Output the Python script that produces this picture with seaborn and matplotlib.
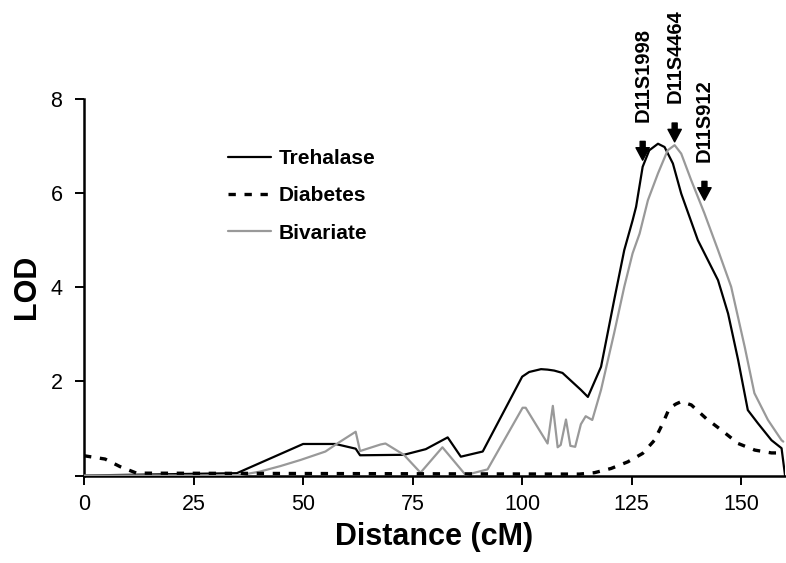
import matplotlib
matplotlib.use("Agg")
import matplotlib.pyplot as plt
import seaborn as sns

# LOD curves (distance in cM)
treh_cm = [0, 34.9, 50, 57.4, 62, 63, 73, 78, 83, 86, 91, 100, 101.6, 104.3, 105.8, 107.3,
           109.2, 113.4, 115, 118, 121, 123.3, 125.2, 126, 127.5, 129, 131, 132.5, 134.4,
           136.3, 140.1, 144.7, 147, 149.3, 151.5, 153.8, 156.9, 159.2, 160]
treh_lod = [0, 0.05, 0.67, 0.67, 0.57, 0.43, 0.44, 0.56, 0.81, 0.40, 0.51, 2.10, 2.20, 2.26,
            2.25, 2.23, 2.18, 1.82, 1.67, 2.31, 3.73, 4.79, 5.42, 5.71, 6.56, 6.91, 7.05, 6.98,
            6.63, 5.99, 5.00, 4.15, 3.44, 2.45, 1.39, 1.11, 0.75, 0.58, 0]

diab_cm = [0, 4.8, 8.2, 12, 113, 116.5, 120.3, 124.1, 127.5, 130.2, 132.1, 133.6, 135.1,
           136.3, 138.6, 142, 145.4, 149.3, 153.1, 156.9, 158]
diab_lod = [0.42, 0.35, 0.19, 0.05, 0.03, 0.06, 0.15, 0.29, 0.47, 0.75, 1.11, 1.43, 1.52,
            1.57, 1.50, 1.21, 0.97, 0.68, 0.54, 0.48, 0.48]

biv_cm = [0, 35, 40, 44.8, 49.4, 55.1, 57.8, 62, 63, 67.7, 68.8, 73, 76.8, 81.8, 87.1, 92.1,
          100.1, 100.8, 105.8, 107, 108.1, 108.8, 110, 111, 112.1, 113.4, 114.5, 116, 118,
          121, 123.3, 125.2, 126.8, 128.7, 131, 133.2, 134.8, 136.3, 138.6, 141.6, 144.7,
          147.7, 150.8, 153, 156.1, 159.2, 159.6]
biv_lod = [0, 0, 0.08, 0.20, 0.33, 0.51, 0.68, 0.93, 0.52, 0.66, 0.68, 0.44, 0.06, 0.60, 0.01,
           0.13, 1.44, 1.44, 0.68, 1.48, 0.60, 0.65, 1.19, 0.63, 0.61, 1.09, 1.26, 1.18, 1.82,
           3.03, 4.01, 4.72, 5.14, 5.85, 6.42, 6.91, 7.02, 6.84, 6.27, 5.57, 4.79, 4.01, 2.73,
           1.75, 1.18, 0.75, 0.72]

marker_names = ["D11S1998", "D11S4464", "D11S912"]
marker_cm = [127.5, 134.8, 141.6]

x_ticks = [0, 25, 50, 75, 100, 125, 150]
y_ticks = [0, 2, 4, 6, 8]

sns.set_style("ticks")
plt.rcParams["font.family"] = ["Liberation Sans", "DejaVu Sans"]
plt.rcParams.update({"text.color": "black", "axes.labelcolor": "black",
                     "xtick.color": "black", "ytick.color": "black"})

fig = plt.figure(figsize=(7.86, 5.63), dpi=100)
ax = fig.add_axes([0.1069, 0.1554, 0.8919, 0.6687])

sns.lineplot(x=treh_cm, y=treh_lod, ax=ax, color="black", lw=1.6, label="Trehalase",
             estimator=None, sort=False, zorder=3)
sns.lineplot(x=diab_cm, y=diab_lod, ax=ax, color="black", lw=2.4, label="Diabetes",
             estimator=None, sort=False, zorder=5)
sns.lineplot(x=biv_cm, y=biv_lod, ax=ax, color="#999999", lw=1.6, label="Bivariate",
             estimator=None, sort=False, zorder=4)
ax.lines[1].set_dashes((2.2, 2.6))

ax.set_xlim(0, 160)
ax.set_ylim(0, 8)
ax.set_xticks(x_ticks)
ax.set_xticklabels([str(t) for t in x_ticks])
ax.set_yticks(y_ticks)
ax.set_yticklabels([""] + [str(t) for t in y_ticks[1:]])
ax.tick_params(axis="x", labelsize=15.5, length=6.5, width=1.4, pad=7)
ax.tick_params(axis="y", labelsize=15.5, length=6.5, width=1.4, pad=9)
for side in ["left", "bottom"]:
    ax.spines[side].set_linewidth(1.8)
    ax.spines[side].set_color("black")
sns.despine(ax=ax)

ax.set_xlabel("Distance (cM)", fontsize=22, fontweight="bold", labelpad=5)
ax.set_ylabel("LOD", fontsize=22, fontweight="bold", labelpad=6)

leg = ax.legend(loc="upper left", bbox_to_anchor=(0.205, 0.867), frameon=False,
                prop={"size": 15, "weight": "bold"}, handlelength=2.1, handletextpad=0.35,
                labelspacing=0.88, borderpad=0, borderaxespad=0)

# marker arrows and labels
arrow_tip = [6.70, 7.09, 5.85]
for name, cm, tip in zip(marker_names, marker_cm, arrow_tip):
    ax.annotate("", xy=(cm, tip), xytext=(cm, tip + 0.4), annotation_clip=False,
                arrowprops=dict(arrowstyle="simple,head_length=0.75,head_width=0.8,tail_width=0.3",
                                mutation_scale=12, color="black", shrinkA=0, shrinkB=0))
    ax.text(cm, tip + 0.82, name, rotation=90, ha="center", va="bottom", fontsize=14.5,
            fontweight="bold", clip_on=False)

plt.savefig("out.png", dpi=100)
